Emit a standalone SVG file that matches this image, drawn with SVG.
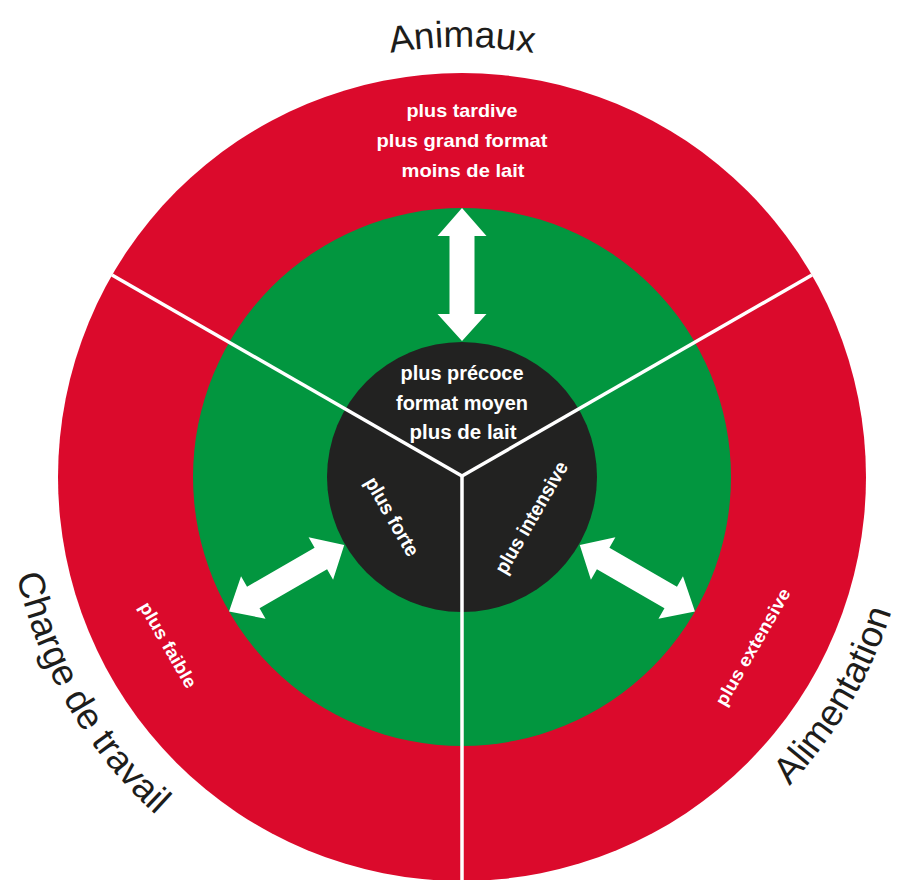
<svg xmlns="http://www.w3.org/2000/svg" width="902" height="880" viewBox="0 0 902 880">
  <defs>
    <style>
      .red { fill: #DB0A2C; }
      .green { fill: #02963F; }
      .dark { fill: #222221; }
      .sep { stroke: #ffffff; stroke-width: 3.5; fill: none; stroke-linecap: butt; }
      .arrow { fill: #ffffff; }
      .lbl { font-family: "Liberation Sans", "Arial", sans-serif; font-weight: bold; fill: #ffffff; text-anchor: middle; }
      .outer { font-family: "Liberation Sans", "Arial", sans-serif; fill: #1d1d1b; font-size: 37px; text-anchor: middle; }
    </style>
    <path id="dblArrow" d="M0,-269 L24.5,-241 L12.5,-241 L12.5,-163 L24.5,-163 L0,-136 L-24.5,-163 L-12.5,-163 L-12.5,-241 L-24.5,-241 Z"/>
    <path id="arcTop" d="M32,477 A430,430 0 0 1 892,477"/>
    <path id="arcBottom" d="M6,477 A456,456 0 0 0 918,477"/>
    <path id="arcRight" d="M12,477 A450,450 0 0 0 912,477"/>
  </defs>

  <rect width="902" height="880" fill="#ffffff"/>

  <g id="ring-outer">
    <circle class="red" cx="462" cy="477" r="404"/>
  </g>
  <g id="ring-middle">
    <circle class="green" cx="462" cy="477" r="269"/>
  </g>
  <g id="core">
    <circle class="dark" cx="462" cy="477" r="135"/>
  </g>

  <g id="separators">
    <line class="sep" x1="462" y1="476" x2="112" y2="275"/>
    <line class="sep" x1="462" y1="476" x2="812" y2="275"/>
    <line class="sep" x1="462" y1="476" x2="462" y2="882"/>
  </g>

  <g id="connectors">
    <use href="#dblArrow" class="arrow" transform="translate(462,477)"/>
    <use href="#dblArrow" class="arrow" transform="translate(462,477) rotate(-120)"/>
    <use href="#dblArrow" class="arrow" transform="translate(462,477) rotate(120)"/>
  </g>

  <g id="core-text">
    <text class="lbl" x="462" y="380" font-size="20" textLength="123" lengthAdjust="spacingAndGlyphs">plus précoce</text>
    <text class="lbl" x="462" y="410" font-size="20" textLength="132" lengthAdjust="spacingAndGlyphs">format moyen</text>
    <text class="lbl" x="463" y="439" font-size="20" textLength="107" lengthAdjust="spacingAndGlyphs">plus de lait</text>
  </g>

  <g id="core-travail" transform="translate(391.5,517) rotate(60)">
    <text class="lbl" x="0" y="6" font-size="20" textLength="88" lengthAdjust="spacingAndGlyphs">plus forte</text>
  </g>
  <g id="core-alimentation" transform="translate(532,518) rotate(-60)">
    <text class="lbl" x="0" y="6" font-size="20" textLength="126" lengthAdjust="spacingAndGlyphs">plus intensive</text>
  </g>

  <g id="outer-animaux">
    <text class="lbl" x="462" y="117" font-size="19" textLength="111" lengthAdjust="spacingAndGlyphs">plus tardive</text>
    <text class="lbl" x="462" y="147" font-size="19" textLength="171" lengthAdjust="spacingAndGlyphs">plus grand format</text>
    <text class="lbl" x="463" y="177" font-size="19" textLength="123" lengthAdjust="spacingAndGlyphs">moins de lait</text>
  </g>
  <g id="outer-travail" transform="translate(168,645) rotate(60)">
    <text class="lbl" x="0" y="6" font-size="18" textLength="96" lengthAdjust="spacingAndGlyphs">plus faible</text>
  </g>
  <g id="outer-alimentation" transform="translate(753,647) rotate(-60)">
    <text class="lbl" x="0" y="6" font-size="18" textLength="132" lengthAdjust="spacingAndGlyphs">plus extensive</text>
  </g>

  <g id="label-animaux">
    <text class="outer"><textPath href="#arcTop" startOffset="50%">Animaux</textPath></text>
  </g>
  <g id="label-travail">
    <text class="outer"><textPath href="#arcBottom" startOffset="240">Charge de travail</textPath></text>
  </g>
  <g id="label-alimentation">
    <text class="outer" font-size="35"><textPath href="#arcRight" startOffset="1175">Alimentation</textPath></text>
  </g>
</svg>
